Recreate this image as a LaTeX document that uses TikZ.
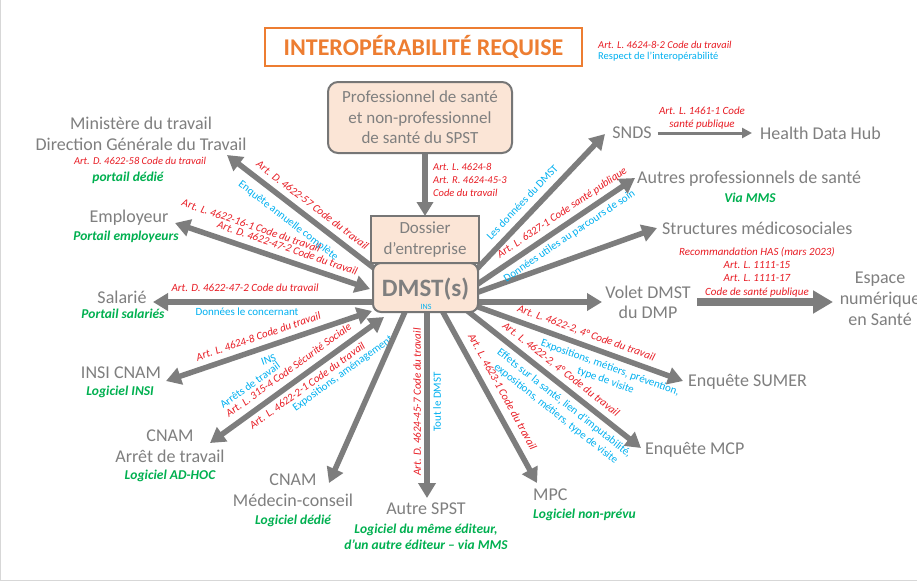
\documentclass[tikz,border=0pt]{standalone}
\usepackage{fontspec}
\setmainfont{Carlito}
\usetikzlibrary{arrows.meta}
\pgfdeclarelayer{back}
\pgfdeclarelayer{paper}
\pgfsetlayers{paper,back,main}
\definecolor{tgray}{RGB}{127,127,127}
\definecolor{agray}{RGB}{125,125,125}
\definecolor{bgray}{RGB}{118,118,118}
\definecolor{lred}{RGB}{232,28,36}
\definecolor{lcyan}{RGB}{0,176,240}
\definecolor{lgreen}{RGB}{0,176,80}
\definecolor{lorange}{RGB}{237,125,49}
\definecolor{peach}{RGB}{251,229,214}
\definecolor{framegray}{RGB}{215,215,215}
\begin{document}
\begin{tikzpicture}[x=1pt,y=-1pt,
  lbl/.style={text=tgray,font=\fontsize{18}{21}\selectfont,inner sep=0pt,align=center},
  rl/.style={text=lred,font=\fontsize{11}{13}\selectfont\itshape,inner sep=0pt,align=center},
  cl/.style={text=lcyan,font=\fontsize{11}{14}\selectfont,inner sep=0pt,align=center},
  redlab/.style={text=lred,font=\fontsize{11}{13}\selectfont\itshape,inner sep=0pt,sloped,text height=8pt,text depth=2.5pt},
  cyanlab/.style={text=lcyan,font=\fontsize{11}{13}\selectfont,inner sep=0pt,sloped,text height=8pt,text depth=2.5pt},
  cyanmulti/.style={text=lcyan,font=\fontsize{11}{13.5}\selectfont,inner sep=0pt,sloped,align=center},
  gl/.style={text=lgreen,font=\fontsize{13.5}{16}\selectfont\bfseries\itshape,inner sep=0pt,align=center},
  bigarrow/.style={draw=agray,line width=5.5pt,-{Triangle[width=17pt,length=15pt]}},
  bothways/.style={draw=agray,line width=5.5pt,{Triangle[width=17pt,length=15pt]}-{Triangle[width=17pt,length=15pt]}},
  peachbox/.style={draw=bgray,line width=2pt,fill=peach,inner sep=0pt,text=tgray,align=center}
]
\useasboundingbox (0,0) rectangle (917,581);
\begin{pgfonlayer}{paper}
\fill[white] (0,0) rectangle (917,581);
\draw[framegray,line width=1pt] (0.5,0) -- (0.5,580) -- (917,580);
\end{pgfonlayer}

% ---------- title ----------
\node[draw=lorange,line width=2.5pt,minimum width=317pt,minimum height=38pt,inner sep=0pt,
      text=lorange,font=\fontsize{24}{28}\selectfont\bfseries] (title) at (423.5,47) {INTEROPÉRABILITÉ REQUISE};
\node[text=lred,font=\fontsize{10.5}{12}\selectfont\itshape,inner sep=0pt,anchor=west] (tref) at (598,45) {Art. L. 4624-8-2 Code du travail};
\node[text=lcyan,font=\fontsize{10.5}{12}\selectfont,inner sep=0pt,anchor=west] (tresp) at (598,57) {Respect de l’interopérabilité};

% ---------- central boxes ----------
\node[peachbox,rounded corners=10pt,minimum width=184pt,minimum height=71pt,
      font=\fontsize{17}{20.5}\selectfont] (prof) at (420,117.5) {Professionnel de santé\\et non-professionnel\\de santé du SPST};
\node[peachbox,minimum width=108pt,minimum height=47pt,
      font=\fontsize{17}{21}\selectfont] (doss) at (425,239.5) {Dossier\\d’entreprise};
\node[peachbox,rounded corners=8pt,minimum width=105pt,minimum height=49pt] (dmst) at (425.5,287.5) {};
\node[text=tgray,font=\fontsize{25}{28}\selectfont\bfseries,inner sep=0pt] (dmsttxt) at (425.5,289) {DMST(s)};
\node[text=lcyan,font=\fontsize{8}{9}\selectfont,inner sep=0pt] (ins) at (426,307) {INS};

\node[rl,anchor=west,align=left,font=\fontsize{10.5}{13}\selectfont\itshape] (profref) at (433,180) {Art. L. 4624-8\\Art. R. 4624-45-3\\Code du travail};

% ---------- end points ----------
\coordinate (m1) at (379,272);   \coordinate (m2) at (227,155);
\coordinate (e1) at (370,289);   \coordinate (e2) at (175,223);
\coordinate (s1) at (385,302);   \coordinate (s2) at (153,302);
\coordinate (i1) at (372,311);   \coordinate (i2) at (166,381);
\coordinate (a1) at (384,317);   \coordinate (a2) at (210,443);
\coordinate (c1) at (408,305);   \coordinate (c2) at (329,483);
\coordinate (p1) at (427,305);   \coordinate (p2) at (427,498);
\coordinate (q1) at (439,305);   \coordinate (q2) at (537,483);
\coordinate (r1) at (460,305);   \coordinate (r2) at (641,448);
\coordinate (u1) at (470,304);   \coordinate (u2) at (683,381);
\coordinate (v1) at (470,302);   \coordinate (v2) at (602,302);
\coordinate (t1) at (470,295);   \coordinate (t2) at (657,228);
\coordinate (o1) at (471,288.5); \coordinate (o2) at (635,178);
\coordinate (n1) at (472,274);   \coordinate (n2) at (605,134);
\coordinate (w1) at (697,302);   \coordinate (w2) at (833,302);

% ---------- outer labels ----------
\node[lbl] (minis) at (141,134) {Ministère du travail\\Direction Générale du Travail};
\node[rl,font=\fontsize{10.5}{12}\selectfont\itshape] (minisref) at (140,161) {Art. D. 4622-58 Code du travail};
\node[gl] (minisg) at (128,178) {portail dédié};

\node[lbl] (empl) at (129,218) {Employeur};
\node[gl] (emplg) at (126,237) {Portail employeurs};

\node[lbl] (sal) at (122,297) {Salarié};
\node[gl] (salg) at (123,314) {Portail salariés};

\node[lbl] (insi) at (121,373) {INSI CNAM};
\node[gl] (insig) at (120,392) {Logiciel INSI};

\node[lbl] (arret) at (170,446.5) {CNAM\\Arrêt de travail};
\node[gl] (arretg) at (170,476) {Logiciel AD-HOC};

\node[lbl] (medc) at (293,490.5) {CNAM\\Médecin-conseil};
\node[gl] (medcg) at (293,521) {Logiciel dédié};

\node[lbl] (autre) at (426,509) {Autre SPST};
\node[gl] (autreg) at (426,537) {Logiciel du même éditeur,\\d’un autre éditeur – via MMS};

\node[lbl,anchor=west] (mpc) at (533,495) {MPC};
\node[gl,anchor=west] (mpcg) at (533,515) {Logiciel non-prévu};

\node[lbl,anchor=west] (mcp) at (645,450) {Enquête MCP};
\node[lbl,anchor=west] (sumer) at (688,382) {Enquête SUMER};

\node[lbl,font=\fontsize{18}{20}\selectfont] (volet) at (648,302) {Volet DMST\\du DMP};
\node[lbl] (espace) at (880,299) {Espace\\numérique\\en Santé};
\node[rl,font=\fontsize{11}{13.3}\selectfont\itshape] (espref) at (757,272) {Recommandation HAS (mars 2023)\\Art. L. 1111-15\\Art. L. 1111-17\\Code de santé publique};

\node[lbl,anchor=west] (struct) at (662,228) {Structures médicosociales};
\node[lbl,anchor=west] (autpro) at (637,179) {Autres professionnels de santé};
\node[gl] (autprog) at (750,198) {Via MMS};

\node[lbl] (snds) at (632,133) {SNDS};
\node[lbl,anchor=west] (hdh) at (760,133) {Health Data Hub};
\node[rl,font=\fontsize{11}{12.5}\selectfont\itshape] (sndsref) at (702,118) {Art. L. 1461-1 Code\\santé publique};

\node[rl,rotate=90] (lp1) at (417,402) {Art. D. 4624-45-7 Code du travail};
\node[cl,rotate=90] (lp2) at (437,402) {Tout le DMST};

% ---------- arrows with their labels ----------
\begin{pgfonlayer}{back}
\draw[bigarrow] (m1) -- (m2)
  node[redlab,pos=0.487,above=3.5pt] (lm1) {Art. D. 4622-57 Code du travail}
  node[cyanlab,pos=0.538,below=7pt] (lm2) {Enquête annuelle complète};
\draw[bothways] (e1) -- (e2)
  node[redlab,pos=0.645,above=13pt] (le1) {Art. L. 4622-16-1 Code du travail}
  node[redlab,pos=0.443,above=3.5pt] (le2) {Art. D. 4622-47-2 Code du travail};
\draw[bigarrow] (s1) -- (s2)
  node[redlab,pos=0.603,above=5pt] (ls1) {Art. D. 4622-47-2 Code du travail}
  node[cyanlab,pos=0.595,below=3pt] (ls2) {Données le concernant};
\draw[bothways] (i1) -- (i2)
  node[redlab,pos=0.532,above=3.5pt] (li1) {Art. L. 4624-8 Code du travail}
  node[cyanlab,pos=0.522,below=5.5pt] (li2) {INS};
\draw[bothways] (a1) -- (a2)
  node[cyanlab,pos=0.691,above=14.5pt] (la1) {Arrêts de travail}
  node[redlab,pos=0.505,above=4pt] (la2) {Art. L. 315-4 Code Sécurité Sociale}
  node[redlab,pos=0.477,below=3.5pt] (la3) {Art. L. 4622-2-1 Code du travail}
  node[cyanlab,pos=0.31,below=14pt] (la4) {Expositions, aménagement};
\draw[bigarrow] (c1) -- (c2);
\draw[bigarrow] (p1) -- (p2);
\draw[bigarrow] (q1) -- (q2)
  node[redlab,pos=0.524,above=5pt] (lq1) {Art. L. 4623-1 Code du travail};
\draw[bigarrow] (r1) -- (r2)
  node[redlab,pos=0.517,above=3.5pt] (lr1) {Art. L. 4622-2, 4° Code du travail}
  node[cyanmulti,pos=0.619,below=5pt] (lr2) {Effets sur la santé, lien d’imputabilité,\\expositions, métiers, type de visite};
\draw[bigarrow] (u1) -- (u2)
  node[redlab,pos=0.527,above=3.5pt] (lu1) {Art. L. 4622-2, 4° Code du travail}
  node[cyanmulti,pos=0.678,below=5pt] (lu2) {Expositions, métiers, prévention,\\type de visite};
\draw[bigarrow] (v1) -- (v2);
\draw[bigarrow] (t1) -- (t2);
\draw[bigarrow] (o1) -- (o2)
  node[redlab,pos=0.596,above=3.5pt] (lo1) {Art. L. 6327-1 Code santé publique}
  node[cyanlab,pos=0.561,below=3.8pt] (lo2) {Données utiles au parcours de soin};
\draw[bigarrow] (n1) -- (n2)
  node[cyanlab,pos=0.448,above=4pt] (ln1) {Les données du DMST};
\draw[draw=agray,line width=5.5pt,-{Triangle[width=16pt,length=14pt]}] (doss.north |- prof.south) -- ([yshift=-1pt]doss.north);
\draw[draw=agray,line width=8pt,-{Triangle[width=22pt,length=20pt]}] (w1) -- (w2);
\draw[draw=agray,line width=3pt,-{Triangle[width=10pt,length=10pt]}] ([xshift=6pt]snds.east) -- ([xshift=-8pt]hdh.west);
\end{pgfonlayer}
\end{tikzpicture}
\end{document}
